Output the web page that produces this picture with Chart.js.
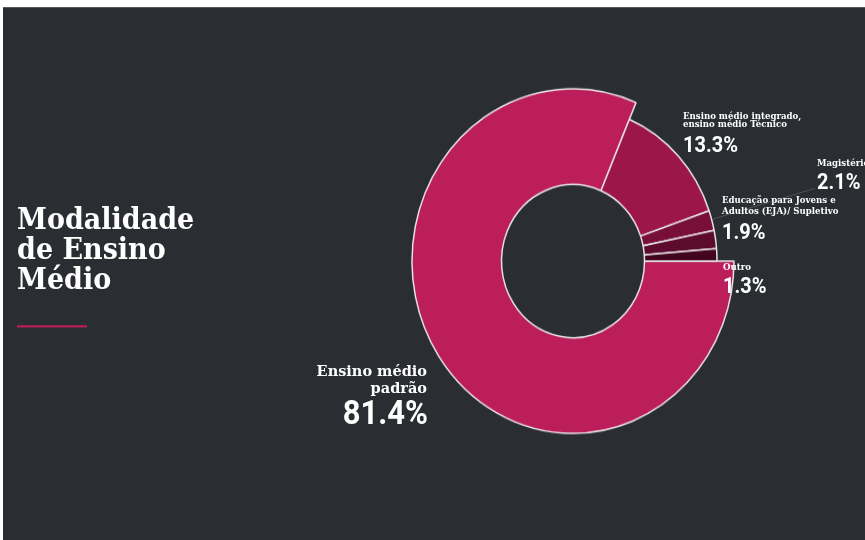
<!DOCTYPE html>
<html>
<head>
<meta charset="utf-8">
<script src="https://cdn.jsdelivr.net/npm/chart.js@4/dist/chart.umd.min.js"></script>
<style>
  html, body { margin: 0; padding: 0; background: #ffffff; width: 865px; height: 540px; overflow: hidden; }
  #bg { position: absolute; left: 3px; top: 7px; width: 862px; height: 533px; background: #2a2d32; border-top: 1px solid #55585c; box-sizing: border-box; }
  #stage { position: absolute; left: 0; top: 0; width: 865px; height: 505px; transform: scaleY(1.07); transform-origin: 0 0; }
  #chartWrap { position: absolute; left: 383px; top: 54px; width: 380px; height: 380px; }
  .t { position: absolute; line-height: 0; white-space: nowrap; color: #ffffff; }
  .serif { font-family: "DejaVu Serif", serif; font-weight: bold; }
  .num { font-family: Roboto, "Noto Sans", sans-serif; font-weight: 700; }
  .title { font-size: 27px; }
  .big { font-size: 14.5px; }
  .small { font-size: 8.6px; }
  .bignum { font-size: 31px; }
  .pct { font-size: 20px; }
  #underline { position: absolute; left: 17px; top: 303.7px; width: 70px; height: 2.8px; background: #bc1d5b; }
  svg { position: absolute; left: 0; top: 0; }
</style>
</head>
<body>
<div id="bg"></div>
<div id="stage">
  <div id="chartWrap"><canvas id="c" width="380" height="380"></canvas></div>
  <svg width="865" height="505"><line x1="815" y1="176" x2="713" y2="204.7" stroke="rgba(255,255,255,0.22)" stroke-width="0.8"/></svg>

  <div class="t serif title" style="left:17px; top:205.2px;">Modalidade</div>
  <div class="t serif title" style="left:17px; top:233.2px;">de Ensino</div>
  <div class="t serif title" style="left:17px; top:261.2px;">Médio</div>
  <div id="underline"></div>

  <div class="t serif big" style="right:438px; top:345.5px; text-align:right;">Ensino médio</div>
  <div class="t serif big" style="right:438px; top:362px; text-align:right;">padrão</div>
  <div class="t num bignum" style="right:437px; top:385.7px; text-align:right;" id="p0"></div>

  <div class="t serif small" style="left:683px; top:107.8px;">Ensino médio integrado,</div>
  <div class="t serif small" style="left:683px; top:116.4px;">ensino médio Técnico</div>
  <div class="t num pct" style="left:683px; top:135.3px;" id="p1"></div>

  <div class="t serif small" style="left:817px; top:152px;">Magistério</div>
  <div class="t num pct" style="left:817px; top:169.8px;" id="p2"></div>

  <div class="t serif small" style="left:722px; top:186.8px;">Educação para Jovens e</div>
  <div class="t serif small" style="left:722px; top:197.1px;">Adultos (EJA)/ Supletivo</div>
  <div class="t num pct" style="left:722px; top:215.6px;" id="p3"></div>

  <div class="t serif small" style="left:723px; top:249.4px;">Outro</div>
  <div class="t num pct" style="left:723px; top:267px;" id="p4"></div>
</div>
<script>
const categories = [
  "Ensino médio padrão",
  "Ensino médio integrado, ensino médio Técnico",
  "Magistério",
  "Educação para Jovens e Adultos (EJA)/ Supletivo",
  "Outro"
];
const values = [81.4, 13.3, 2.1, 1.9, 1.3];
const colors = ["#bc1d5b", "#9c1649", "#780f3a", "#5c0a2d", "#43061f"];

values.forEach((v, i) => {
  document.getElementById("p" + i).textContent = v.toFixed(1) + "%";
});

const enlargeFirst = {
  id: "enlargeFirst",
  afterDatasetUpdate(chart) {
    const arc = chart.getDatasetMeta(0).data[0];
    if (arc) arc.outerRadius = arc.outerRadius + 17;
  }
};

new Chart(document.getElementById("c"), {
  type: "doughnut",
  data: {
    labels: categories,
    datasets: [{
      data: values,
      backgroundColor: colors,
      borderColor: "#e6e2e4",
      borderWidth: 1.5
    }]
  },
  options: {
    responsive: false,
    animation: false,
    rotation: 90,
    radius: 144,
    cutout: "49.65%",
    layout: { padding: 0 },
    plugins: { legend: { display: false }, tooltip: { enabled: false } },
    events: []
  },
  plugins: [enlargeFirst]
});
</script>
</body>
</html>
